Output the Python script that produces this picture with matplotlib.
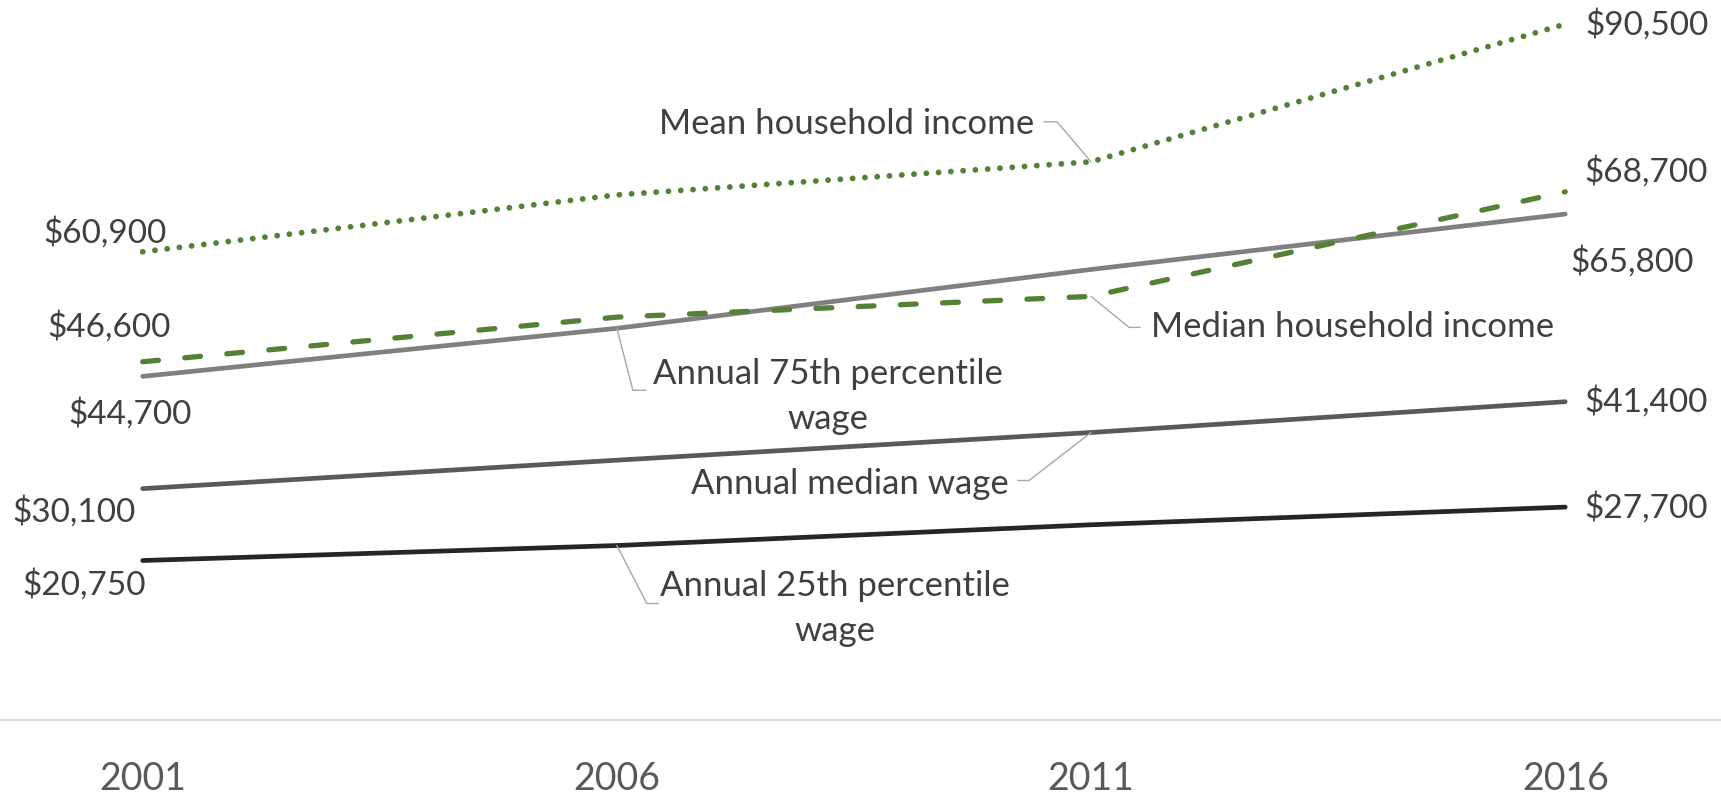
import matplotlib
matplotlib.use("Agg")
import matplotlib.pyplot as plt

plt.rcParams["font.family"] = ["Lato", "DejaVu Sans"]

years = ["2001", "2006", "2011", "2016"]
mean_hh = [60900, 68300, 72600, 90500]
median_hh = [46600, 52400, 55100, 68700]
wage_p75 = [44700, 50950, 58600, 65800]
wage_median = [30100, 33800, 37400, 41400]
wage_p25 = [20750, 22700, 25400, 27700]

green = "#548235"
text_col = "#404040"
lead_col = "#A6A6A6"

fig = plt.figure(figsize=(17.21, 7.95), dpi=100)
# plot area runs across the whole width; baseline sits at pixel row 720
ax = fig.add_axes([0, (795 - 720.1) / 795, 1, 720.1 / 795])
ax.set_xlim(-142.7 / 474.17, (1721 - 142.7) / 474.17)
ax.set_ylim(0, 720.1 / 0.00769)

x = range(len(years))
ax.plot(x, wage_p25, color="#262626", lw=3.4, solid_capstyle="round")
ax.plot(x, wage_median, color="#595959", lw=3.4, solid_capstyle="round")
ax.plot(x, wage_p75, color="#808080", lw=3.4, solid_capstyle="round")
ax.plot(x, median_hh, color=green, lw=3.8, linestyle=(0, (3, 5)),
        dash_capstyle="round")
ax.plot(x, mean_hh, color=green, lw=4.2, linestyle=(0, (0.01, 2.1)),
        dash_capstyle="round")

for s in ["top", "left", "right"]:
    ax.spines[s].set_visible(False)
ax.spines["bottom"].set_color("#D9D9D9")
ax.spines["bottom"].set_linewidth(1.5)
ax.set_yticks([])
ax.set_xticks(list(x))
ax.set_xticklabels(years, fontsize=27, color="#595959")
ax.tick_params(axis="x", length=0, pad=29.5)


def money(v):
    return "${:,}".format(v)


def label(txt, i, v, dx, dy, ha="center", size=24):
    ax.annotate(txt, xy=(i, v), xytext=(dx, -dy), textcoords="offset pixels",
                ha=ha, va="center", fontsize=size, color=text_col,
                linespacing=1.5)


def off(i, v, dx, dy):
    px, py = ax.transData.transform((i, v))
    return ax.transData.inverted().transform((px + dx, py - dy))


def leader(i, v, pts):
    xs, ys = [i], [v]
    for dx, dy in pts:
        a, b = off(i, v, dx, dy)
        xs.append(a)
        ys.append(b)
    ax.plot(xs, ys, color=lead_col, lw=1.0)


# value labels at both ends
label(money(mean_hh[0]), 0, mean_hh[0], -38, -19)
label(money(median_hh[0]), 0, median_hh[0], -34, -35)
label(money(wage_p75[0]), 0, wage_p75[0], -13, 37)
label(money(wage_median[0]), 0, wage_median[0], -69, 23)
label(money(wage_p25[0]), 0, wage_p25[0], -59, 24)

label(money(mean_hh[3]), 3, mean_hh[3], 20, 0, ha="left")
label(money(median_hh[3]), 3, median_hh[3], 19, -20, ha="left")
label(money(wage_p75[3]), 3, wage_p75[3], 5, 47, ha="left")
label(money(wage_median[3]), 3, wage_median[3], 19, 0, ha="left")
label(money(wage_p25[3]), 3, wage_p25[3], 19, 0, ha="left")

# series names with leader lines
leader(2, mean_hh[2], [(-34, -40), (-47, -40)])
label("Mean household income", 2, mean_hh[2], -57, -38, ha="right", size=25)

leader(2, median_hh[2], [(38, 31), (49, 31)])
label("Median household income", 2, median_hh[2], 60, 31, ha="left", size=25)

leader(1, wage_p75[1], [(16, 62), (29, 62)])
label("Annual 75th percentile\nwage", 1, wage_p75[1], 211, 68, size=25)

leader(2, wage_median[2], [(-62, 48), (-73, 48)])
label("Annual median wage", 2, wage_median[2], -82, 52, ha="right", size=25)

leader(1, wage_p25[1], [(30, 58), (41, 58)])
label("Annual 25th percentile\nwage", 1, wage_p25[1], 218, 63, size=25)

fig.savefig("out.png", dpi=100)
